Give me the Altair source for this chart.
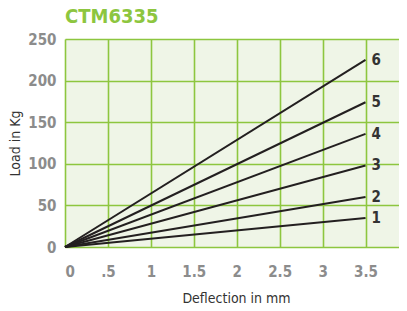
import altair as alt
import pandas as pd

series = ["1", "2", "3", "4", "5", "6"]
end_load = [35, 60, 98, 136, 174, 225]
end_defl = 3.5

x_ticks = [0, 0.5, 1, 1.5, 2, 2.5, 3, 3.5]
y_ticks = [0, 50, 100, 150, 200, 250]

rows = []
for s, v in zip(series, end_load):
    rows.append({"series": s, "x": 0.0, "y": 0.0})
    rows.append({"series": s, "x": end_defl, "y": v})
df = pd.DataFrame(rows)
lab = pd.DataFrame({"series": series, "x": [end_defl] * len(series), "y": end_load})

GREEN = "#8dc63f"
FONT = "'DejaVu Sans Condensed', 'Roboto', sans-serif"

xs = alt.X("x:Q", scale=alt.Scale(domain=[0, 3.89], nice=False, zero=True),
           axis=alt.Axis(values=x_ticks, title="Deflection in mm",
                         labelExpr="datum.value == 0.5 ? '.5' : format(datum.value, '~g')",
                         grid=True, gridColor=GREEN, gridWidth=1.6, gridOpacity=1,
                         domain=False, ticks=False, labelPadding=17,
                         labelFont=FONT, labelFontSize=15,
                         labelFontWeight="bold", labelColor="#8c8c8c",
                         titleFont=FONT, titleFontSize=14,
                         titleFontWeight="normal", titleColor="#333333",
                         titlePadding=12, titleX=171))
ys = alt.Y("y:Q", scale=alt.Scale(domain=[0, 250], nice=False),
           axis=alt.Axis(values=y_ticks, title="Load in Kg",
                         grid=True, gridColor=GREEN, gridWidth=1.6, gridOpacity=1,
                         domain=False, ticks=False, labelPadding=9,
                         labelFont=FONT, labelFontSize=15,
                         labelFontWeight="bold", labelColor="#8c8c8c",
                         titleFont=FONT, titleFontSize=14,
                         titleFontWeight="normal", titleColor="#333333",
                         titlePadding=5))

lines = alt.Chart(df).mark_line(color="#231f20", strokeWidth=2, clip=False).encode(
    x=xs, y=ys, detail="series:N")

labels = alt.Chart(lab).mark_text(align="left", dx=6, font=FONT,
                                  fontSize=15, fontWeight="bold", color="#333333").encode(
    x="x:Q", y="y:Q", text="series:N")

chart = (lines + labels).properties(
    width=334, height=208,
    autosize=alt.AutoSizeParams(type="none"),
    padding={"left": 57, "top": 31, "right": 0, "bottom": 60},
    title=alt.TitleParams("CTM6335", anchor="start", frame="group", font=FONT,
                          fontSize=20, fontWeight="bold", color=GREEN, offset=5),
).configure_view(fill="#eff5e7", stroke=None)

chart.save("out.html", embed_options={"renderer": "svg", "actions": False})
